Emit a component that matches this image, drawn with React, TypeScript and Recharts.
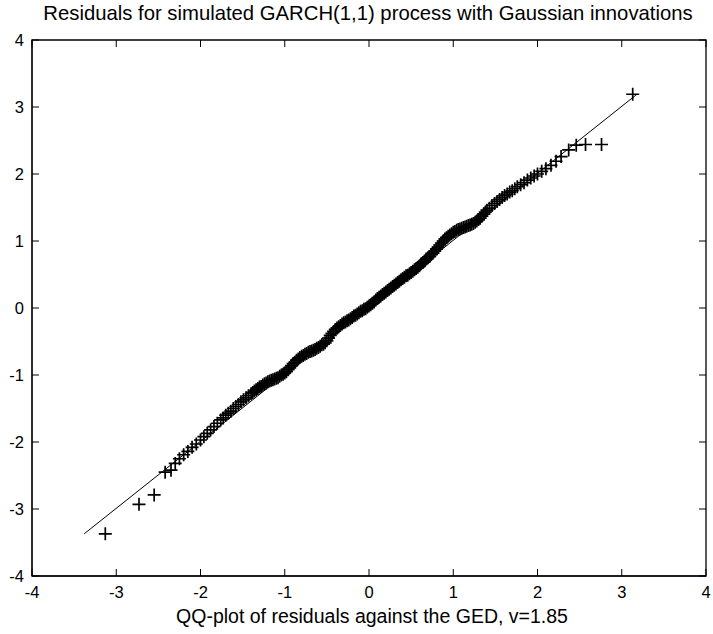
import { ScatterChart, Scatter, XAxis, YAxis, ReferenceArea } from "recharts";

// Q-Q plot: GED quantiles (x) against sorted GARCH residuals (y)
const gedQuantiles = [
  -3.13, -2.73, -2.55, -2.42, -2.35, -2.3, -2.25, -2.2, -2.15, -2.1, -2.05, -2.0,
  -1.96, -1.92, -1.88, -1.84, -1.8, -1.76, -1.73, -1.7, -1.67, -1.64, -1.61, -1.58,
  -1.55, -1.52, -1.49, -1.46, -1.43,
  -1.4, -1.38, -1.36, -1.34, -1.32, -1.3, -1.28, -1.26, -1.24, -1.22, -1.2, -1.18,
  -1.16, -1.14, -1.12, -1.1, -1.08, -1.06, -1.04, -1.02, -1.0, -0.98, -0.96, -0.94,
  -0.92, -0.9, -0.88, -0.86, -0.84, -0.82, -0.8, -0.78, -0.76, -0.74, -0.72, -0.7,
  -0.68, -0.66, -0.64, -0.62, -0.6, -0.58, -0.56, -0.54, -0.52, -0.5, -0.48, -0.46,
  -0.44, -0.42, -0.4, -0.38, -0.36, -0.34, -0.32, -0.3, -0.28, -0.26, -0.24, -0.22,
  -0.2, -0.18, -0.16, -0.14, -0.12, -0.1, -0.08, -0.06, -0.04, -0.02, 0.0, 0.02,
  0.04, 0.06, 0.08, 0.1, 0.12, 0.14, 0.16, 0.18, 0.2, 0.22, 0.24, 0.26,
  0.28, 0.3, 0.32, 0.34, 0.36, 0.38, 0.4, 0.42, 0.44, 0.46, 0.48, 0.5,
  0.52, 0.54, 0.56, 0.58, 0.6, 0.62, 0.64, 0.66, 0.68, 0.7, 0.72, 0.74,
  0.76, 0.78, 0.8, 0.82, 0.84, 0.86, 0.88, 0.9, 0.92, 0.94, 0.96, 0.98,
  1.0, 1.02, 1.04, 1.06, 1.08, 1.1, 1.12, 1.14, 1.16, 1.18, 1.2, 1.22,
  1.24, 1.26, 1.28, 1.3, 1.32, 1.34, 1.36, 1.38, 1.4,
  1.43, 1.46, 1.49, 1.52, 1.55, 1.58, 1.61, 1.64, 1.67, 1.7, 1.73, 1.76,
  1.8, 1.84, 1.88, 1.92, 1.96, 2.0, 2.05, 2.1, 2.16, 2.22, 2.28, 2.37,
  2.46, 2.57, 2.76, 3.13,
];

const residuals = [
  -3.37, -2.93, -2.79, -2.45, -2.42, -2.32, -2.25, -2.19, -2.14, -2.08, -2.03, -1.97,
  -1.92, -1.87, -1.82, -1.77, -1.72, -1.67, -1.64, -1.6, -1.57, -1.54, -1.5, -1.47,
  -1.44, -1.4, -1.37, -1.34, -1.31,
  -1.28, -1.26, -1.24, -1.22, -1.2, -1.18, -1.17, -1.15, -1.13, -1.12, -1.1, -1.09,
  -1.08, -1.07, -1.06, -1.05, -1.04, -1.02, -1.0, -0.99, -0.97, -0.95, -0.92, -0.89,
  -0.86, -0.83, -0.81, -0.78, -0.76, -0.74, -0.72, -0.71, -0.69, -0.68, -0.66, -0.65,
  -0.64, -0.63, -0.62, -0.6, -0.59, -0.57, -0.55, -0.54, -0.52, -0.49, -0.45, -0.41,
  -0.38, -0.35, -0.32, -0.3, -0.28, -0.26, -0.24, -0.22, -0.21, -0.19, -0.18, -0.16,
  -0.14, -0.12, -0.11, -0.09, -0.07, -0.05, -0.04, -0.02, -0.01, 0.01, 0.03, 0.05,
  0.07, 0.09, 0.12, 0.14, 0.16, 0.18, 0.2, 0.22, 0.24, 0.26, 0.28, 0.3,
  0.32, 0.34, 0.36, 0.38, 0.4, 0.42, 0.44, 0.46, 0.48, 0.49, 0.51, 0.53,
  0.55, 0.57, 0.59, 0.61, 0.63, 0.66, 0.68, 0.7, 0.73, 0.75, 0.77, 0.8,
  0.82, 0.85, 0.88, 0.91, 0.94, 0.97, 1.0, 1.03, 1.05, 1.07, 1.09, 1.11,
  1.13, 1.14, 1.16, 1.17, 1.18, 1.19, 1.2, 1.21, 1.22, 1.23, 1.24, 1.25,
  1.26, 1.28, 1.3, 1.32, 1.34, 1.37, 1.4, 1.43, 1.46,
  1.49, 1.53, 1.56, 1.59, 1.62, 1.65, 1.68, 1.7, 1.73, 1.75, 1.78, 1.81,
  1.84, 1.87, 1.91, 1.94, 1.97, 2.0, 2.04, 2.08, 2.13, 2.19, 2.26, 2.36,
  2.43, 2.44, 2.44, 3.19,
];

// reference line end points
const lineX = [-3.38, 3.18];
const lineY = [-3.37, 3.19];

const axisTicks = [-4, -3, -2, -1, 0, 1, 2, 3, 4];

const titleText = "Residuals for simulated GARCH(1,1) process with Gaussian innovations";
const xLabelText = "QQ-plot of residuals against the GED, v=1.85";

const points = gedQuantiles.map((q, i) => ({ x: q, y: residuals[i] }));
const refLine = lineX.map((x, i) => ({ x, y: lineY[i] }));

const FONT = "'Liberation Sans', Arial, sans-serif";
const CHART_W = 713;
const CHART_H = 634;
const X_AXIS_H = 58;
const Y_AXIS_W = 32;
const TOP = 40;
const RIGHT_GAP = 7;
const PLOT_LEFT = Y_AXIS_W;
const PLOT_RIGHT = CHART_W - RIGHT_GAP;
const PLOT_TOP = TOP;
const PLOT_BOTTOM = CHART_H - X_AXIS_H;
const TICK_LEN = 7;

function PlusMarker(props: any) {
  const { cx, cy } = props;
  if (cx == null || cy == null) return null;
  const r = 6.5;
  return (
    <path
      d={`M${cx - r},${cy}H${cx + r}M${cx},${cy - r}V${cy + r}`}
      stroke="#000"
      strokeWidth={1.7}
      fill="none"
    />
  );
}

const NoMarker = () => null;

// bottom labels + inward tick marks on bottom and top edges
function BottomTick(props: any) {
  const { x, payload } = props;
  return (
    <g>
      <line x1={x} x2={x} y1={PLOT_BOTTOM} y2={PLOT_BOTTOM - TICK_LEN} stroke="#000" />
      <line x1={x} x2={x} y1={PLOT_TOP} y2={PLOT_TOP + TICK_LEN} stroke="#000" />
      <text
        x={x}
        y={PLOT_BOTTOM + 22}
        textAnchor="middle"
        fontSize={16.5}
        fontFamily={FONT}
        fill="#000"
      >
        {payload.value}
      </text>
    </g>
  );
}

// left labels + inward tick marks on left and right edges
function LeftTick(props: any) {
  const { y, payload } = props;
  return (
    <g>
      <line x1={PLOT_LEFT} x2={PLOT_LEFT + TICK_LEN} y1={y} y2={y} stroke="#000" />
      <line x1={PLOT_RIGHT} x2={PLOT_RIGHT - TICK_LEN} y1={y} y2={y} stroke="#000" />
      <text
        x={PLOT_LEFT - 8}
        y={y + 6}
        textAnchor="end"
        fontSize={16.5}
        fontFamily={FONT}
        fill="#000"
      >
        {payload.value}
      </text>
    </g>
  );
}

export default function App() {
  return (
    <div style={{ position: "relative", width: CHART_W, height: CHART_H, background: "#fff" }}>
      <style>{`body{margin:0;background:#fff}`}</style>
      <div
        style={{
          position: "absolute",
          left: 0,
          width: 736,
          top: 2,
          textAlign: "center",
          fontFamily: FONT,
          fontSize: 20.3,
          color: "#000",
          whiteSpace: "nowrap",
        }}
      >
        {titleText}
      </div>
      <ScatterChart
        width={CHART_W}
        height={CHART_H}
        margin={{ top: TOP, right: RIGHT_GAP, bottom: 0, left: 0 }}
      >
        <XAxis
          type="number"
          dataKey="x"
          domain={[-4, 4]}
          ticks={axisTicks}
          height={X_AXIS_H}
          tickLine={false}
          stroke="#000"
          tick={BottomTick}
          interval={0}
          allowDataOverflow
        />
        <YAxis
          type="number"
          dataKey="y"
          domain={[-4, 4]}
          ticks={axisTicks}
          width={Y_AXIS_W}
          tickLine={false}
          stroke="#000"
          tick={LeftTick}
          interval={0}
          allowDataOverflow
        />
        <ReferenceArea
          x1={-4}
          x2={4}
          y1={-4}
          y2={4}
          fill="none"
          fillOpacity={0}
          stroke="#000"
          strokeWidth={1.3}
        />
        <Scatter
          data={refLine}
          line={{ stroke: "#000", strokeWidth: 1 }}
          shape={NoMarker}
          isAnimationActive={false}
        />
        <Scatter data={points} shape={PlusMarker} isAnimationActive={false} />
      </ScatterChart>
      <div
        style={{
          position: "absolute",
          left: 0,
          width: 744,
          top: 605,
          textAlign: "center",
          fontFamily: FONT,
          fontSize: 19.5,
          color: "#000",
          whiteSpace: "nowrap",
        }}
      >
        {xLabelText}
      </div>
    </div>
  );
}
